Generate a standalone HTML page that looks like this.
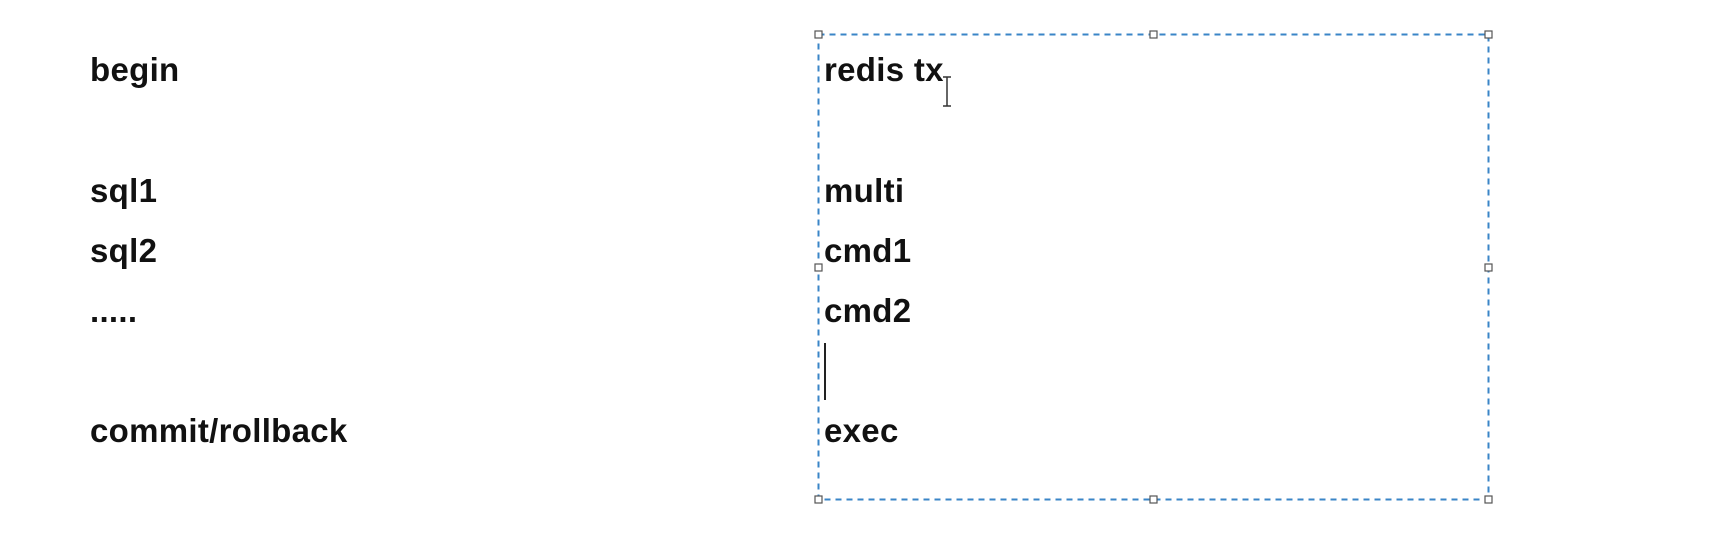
<!DOCTYPE html>
<html><head><style>
body{margin:0;width:1731px;height:544px;background:#fff;position:relative;overflow:hidden;font-family:"Liberation Sans",sans-serif;font-weight:bold;font-size:33px;color:#111}
.t{position:absolute;line-height:1;white-space:nowrap;letter-spacing:0.3px}
</style></head><body>
<svg width="1731" height="544" style="position:absolute;left:0;top:0">
<rect x="818.5" y="34.5" width="670" height="465" fill="none" stroke="#3a85c7" stroke-width="2" stroke-dasharray="6,5"/>
<g fill="#fff" stroke="#555" stroke-width="1.2">
<rect x="815" y="31" width="7" height="7"/><rect x="1150" y="31" width="7" height="7"/><rect x="1485" y="31" width="7" height="7"/>
<rect x="815" y="264" width="7" height="7"/><rect x="1485" y="264" width="7" height="7"/>
<rect x="815" y="496" width="7" height="7"/><rect x="1150" y="496" width="7" height="7"/><rect x="1485" y="496" width="7" height="7"/>
</g>
<line x1="825" y1="343" x2="825" y2="400" stroke="#222" stroke-width="2"/>
<g stroke="#333" stroke-width="1.5"><line x1="947" y1="77" x2="947" y2="106"/><line x1="943" y1="77" x2="951" y2="77"/><line x1="943" y1="106" x2="951" y2="106"/></g>
</svg>
<div class="t" style="left:90px;top:53px">begin</div>
<div class="t" style="left:90px;top:174px">sql1</div>
<div class="t" style="left:90px;top:234px">sql2</div>
<div class="t" style="left:90px;top:294px">.....</div>
<div class="t" style="left:90px;top:414px">commit/rollback</div>
<div class="t" style="left:824px;top:53px">redis tx</div>
<div class="t" style="left:824px;top:174px">multi</div>
<div class="t" style="left:824px;top:234px">cmd1</div>
<div class="t" style="left:824px;top:294px">cmd2</div>
<div class="t" style="left:824px;top:414px">exec</div>
</body></html>
